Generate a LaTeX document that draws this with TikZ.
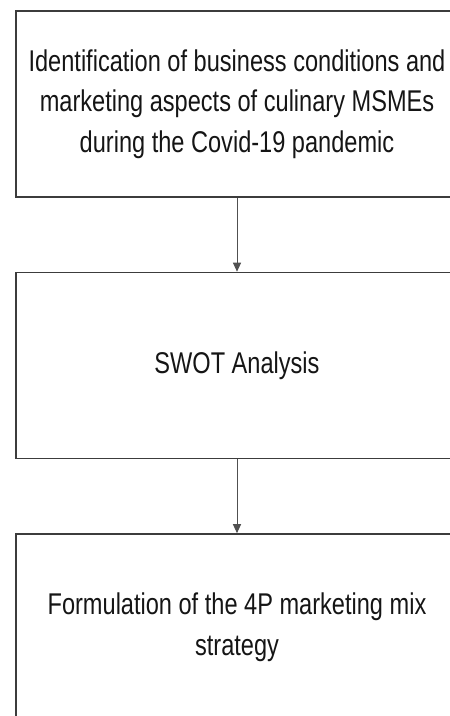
\documentclass[tikz,border=0pt]{standalone}
\usepackage{fontspec}
\newfontfamily\narrowfont[FakeStretch=0.786]{Liberation Sans}
\usetikzlibrary{arrows.meta}
\definecolor{boxline}{HTML}{3C3C3C}
\definecolor{arrowline}{HTML}{505050}
\definecolor{txt}{HTML}{151515}
\tikzset{
  stepbox/.style={draw=boxline, line width=1.6pt, rectangle,
    minimum width=442pt, minimum height=186pt, inner sep=0pt,
    align=center, text=txt, font=\narrowfont\fontsize{30}{40.5}\selectfont},
  flow/.style={draw=arrowline, line width=1pt,
    -{Triangle[length=9pt,width=8pt]}}
}
\begin{document}
\begin{tikzpicture}[x=1pt,y=-1pt]
\useasboundingbox (0,0) rectangle (450,716);
\clip (0,0) rectangle (450,716);
\node[stepbox] (b1) at (237,104) {Identification of business conditions and\\marketing aspects of culinary MSMEs\\during the Covid-19 pandemic};
\node[stepbox] (b2) at (237,365.5) {SWOT Analysis};
\node[stepbox] (b3) at (237,627) {Formulation of the 4P marketing mix\\strategy};
\draw[flow] (b1.south) -- (b2.north);
\draw[flow] (b2.south) -- (b3.north);
\end{tikzpicture}
\end{document}
